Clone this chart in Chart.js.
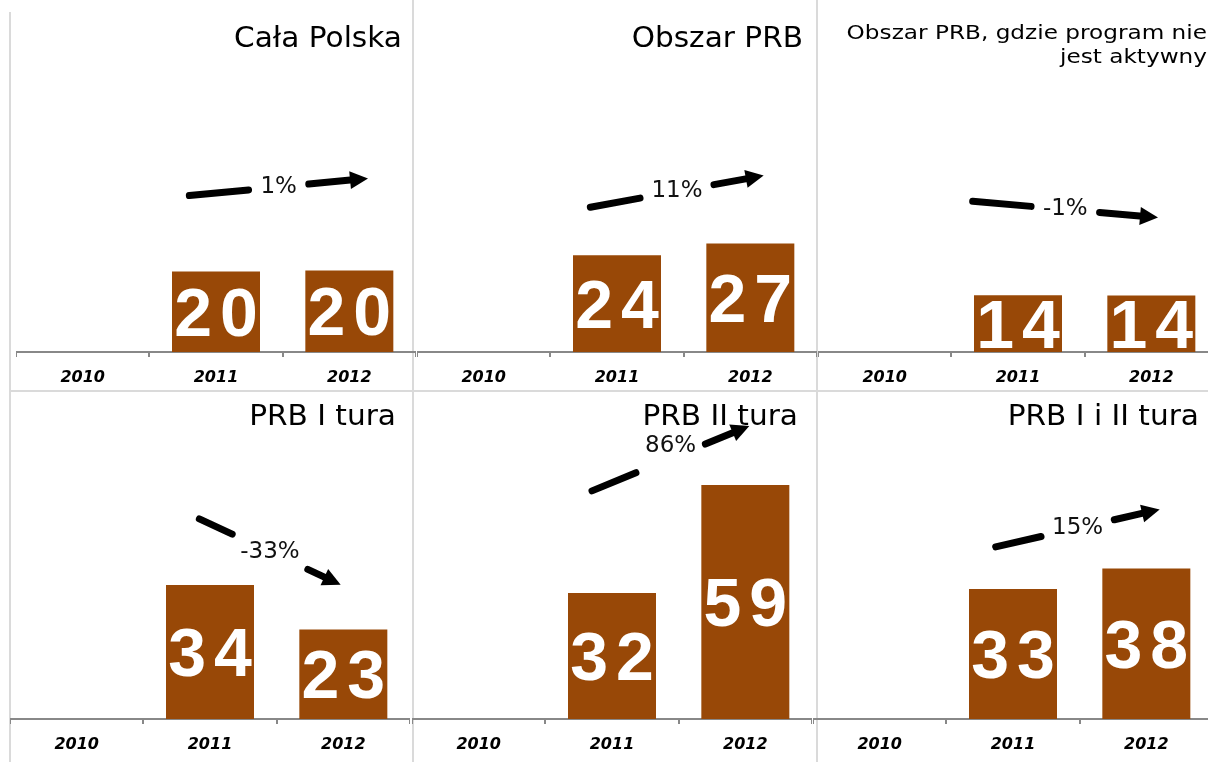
<!DOCTYPE html>
<html lang="pl">
<head>
<meta charset="utf-8">
<title>PRB</title>
<script src="https://cdn.jsdelivr.net/npm/chart.js@4/dist/chart.umd.min.js"></script>
<style>
  html, body { margin: 0; padding: 0; background: #fff; }
  body { width: 1208px; height: 762px; position: relative; overflow: hidden; }
  canvas { position: absolute; }
  .sep { position: absolute; background: #dadada; }
</style>
</head>
<body>
<div class="sep" style="left:9px;top:12px;width:2px;height:750px"></div>
<div class="sep" style="left:412px;top:0;width:2px;height:762px"></div>
<div class="sep" style="left:816px;top:0;width:2px;height:762px"></div>
<div class="sep" style="left:9px;top:390px;width:1199px;height:2px"></div>

<canvas id="c0" width="400" height="376" style="left:16px;top:14px"></canvas>
<canvas id="c1" width="400" height="376" style="left:417px;top:14px"></canvas>
<canvas id="c2" width="400" height="376" style="left:818px;top:14px"></canvas>
<canvas id="c3" width="400" height="365" style="left:10px;top:392px"></canvas>
<canvas id="c4" width="400" height="365" style="left:412px;top:392px"></canvas>
<canvas id="c5" width="400" height="365" style="left:813px;top:392px"></canvas>

<script>
// ---------- dane ----------
const years = ['2010', '2011', '2012'];
const calaPolska   = [null, 20.1, 20.4];
const obszarPRB    = [null, 24.2, 27.1];
const prbNieaktywny = [null, 14.2, 14.1];
const prbITura     = [null, 34.0, 22.7];
const prbIITura    = [null, 32.0, 59.4];
const prbIiIITura  = [null, 33.0, 38.2];
const changes = ['1%', '11%', '-1%', '-33%', '86%', '15%'];
const titles = [
  ['Cała Polska'],
  ['Obszar PRB'],
  ['Obszar PRB, gdzie program nie', 'jest aktywny'],
  ['PRB I tura'],
  ['PRB II tura'],
  ['PRB I i II tura'],
];

// strzałki: przesunięcie [kategoria, wartość] od szczytu słupka 2011 i 2012
const arrowOffsets = [
  [[-0.2, 19], [0.14, 23]],
  [[-0.2, 12], [0.1, 17]],
  [[-0.34, 23.5], [0.05, 19.5]],
  [[-0.08, 16.8], [-0.02, 11.4]],
  [[-0.15, 25.9], [0.03, 15]],
  [[-0.13, 10.7], [0.1, 15]],
];
// pionowe przesunięcie etykiety % względem środka strzałki (px)
const labelShift = [0, 0, 0, 0, -12, 0];

const BAR = '#984807';

function drawSpaced(ctx, txt, cx, baseY, gap) {
  const ws = [...txt].map(ch => ctx.measureText(ch).width);
  const total = ws.reduce((a, b) => a + b, 0) + gap * (ws.length - 1);
  let x = cx - total / 2;
  ctx.textAlign = 'left';
  [...txt].forEach((ch, i) => { ctx.fillText(ch, x, baseY); x += ws[i] + gap; });
}

function stretchedRight(ctx, txt, right, baseY, sx) {
  ctx.save();
  ctx.translate(right, baseY);
  ctx.scale(sx, 1);
  ctx.textAlign = 'right';
  ctx.fillText(txt, 0, 0);
  ctx.restore();
}

const decor = {
  id: 'decor',
  afterDatasetsDraw(chart, args, o) {
    const { ctx, chartArea, scales: { x, y } } = chart;
    const data = chart.data.datasets[0].data;
    const meta = chart.getDatasetMeta(0);
    ctx.save();

    // tytuł
    ctx.fillStyle = '#000';
    ctx.textBaseline = 'alphabetic';
    if (o.title.length > 1) {
      ctx.font = '19px "DejaVu Sans"';
      o.title.forEach((t, i) => stretchedRight(ctx, t, chartArea.right - 11, 25 + i * 24, 1.22));
    } else {
      ctx.font = '29px "DejaVu Sans"';
      stretchedRight(ctx, o.title[0], chartArea.right - 14, 33, 1.02);
    }

    // wartości w słupkach
    ctx.fillStyle = '#fff';
    ctx.font = 'bold 68px "Liberation Sans", Arial';
    meta.data.forEach((bar, i) => {
      if (data[i] == null) return;
      const cy = (bar.y + bar.base) / 2;
      drawSpaced(ctx, String(Math.round(data[i])), bar.x, cy + 24, 8);
    });

    // strzałka ze zmianą %
    const [a, b] = o.arrow;
    const x1 = x.getPixelForValue(1 + a[0]), y1 = y.getPixelForValue(data[1] + a[1]);
    const x2 = x.getPixelForValue(2 + b[0]), y2 = y.getPixelForValue(data[2] + b[1]);
    const mx = (x1 + x2) / 2, my = (y1 + y2) / 2;
    ctx.font = '23px "DejaVu Sans"';
    const tw = ctx.measureText(o.change).width;
    const len = Math.hypot(x2 - x1, y2 - y1);
    const ux = (x2 - x1) / len, uy = (y2 - y1) / len;
    const g = tw / 2 + 12;
    const head = 18;
    ctx.strokeStyle = '#000';
    ctx.lineWidth = 7;
    ctx.lineCap = 'round';
    ctx.beginPath();
    ctx.moveTo(x1, y1);
    ctx.lineTo(mx - ux * g, my - uy * g);
    ctx.moveTo(mx + ux * g, my + uy * g);
    ctx.lineTo(x2 - ux * head * 0.7, y2 - uy * head * 0.7);
    ctx.stroke();
    ctx.fillStyle = '#000';
    ctx.beginPath();
    ctx.moveTo(x2, y2);
    ctx.lineTo(x2 - ux * head - uy * 9, y2 - uy * head + ux * 9);
    ctx.lineTo(x2 - ux * head + uy * 9, y2 - uy * head - ux * 9);
    ctx.closePath();
    ctx.fill();

    ctx.fillStyle = '#111';
    ctx.textAlign = 'center';
    ctx.textBaseline = 'middle';
    ctx.fillText(o.change, mx, my + o.shift);
    ctx.restore();
  },
};

function makeChart(id, values, max, idx) {
  return new Chart(document.getElementById(id), {
    type: 'bar',
    data: {
      labels: years,
      datasets: [{ data: values, backgroundColor: BAR, barPercentage: 0.66, categoryPercentage: 1 }],
    },
    options: {
      responsive: false,
      animation: false,
      layout: { padding: 0 },
      plugins: {
        legend: { display: false },
        tooltip: { enabled: false },
        decor: { title: titles[idx], change: changes[idx], arrow: arrowOffsets[idx], shift: labelShift[idx] },
      },
      scales: {
        x: {
          afterFit: (s) => { s.height = 38; },
          border: { color: '#888', width: 2 },
          grid: { drawOnChartArea: false, color: '#888', lineWidth: 2, tickLength: 5, offset: true },
          ticks: { color: '#000', padding: 11, font: { family: 'DejaVu Sans', size: 16, weight: 'bold', style: 'italic' } },
        },
        y: { display: false, min: 0, max },
      },
    },
    plugins: [decor],
  });
}

makeChart('c0', calaPolska, 84.5, 0);
makeChart('c1', obszarPRB, 84.5, 1);
makeChart('c2', prbNieaktywny, 84.5, 2);
makeChart('c3', prbITura, 83, 3);
makeChart('c4', prbIITura, 83, 4);
makeChart('c5', prbIiIITura, 83, 5);
</script>
</body>
</html>
